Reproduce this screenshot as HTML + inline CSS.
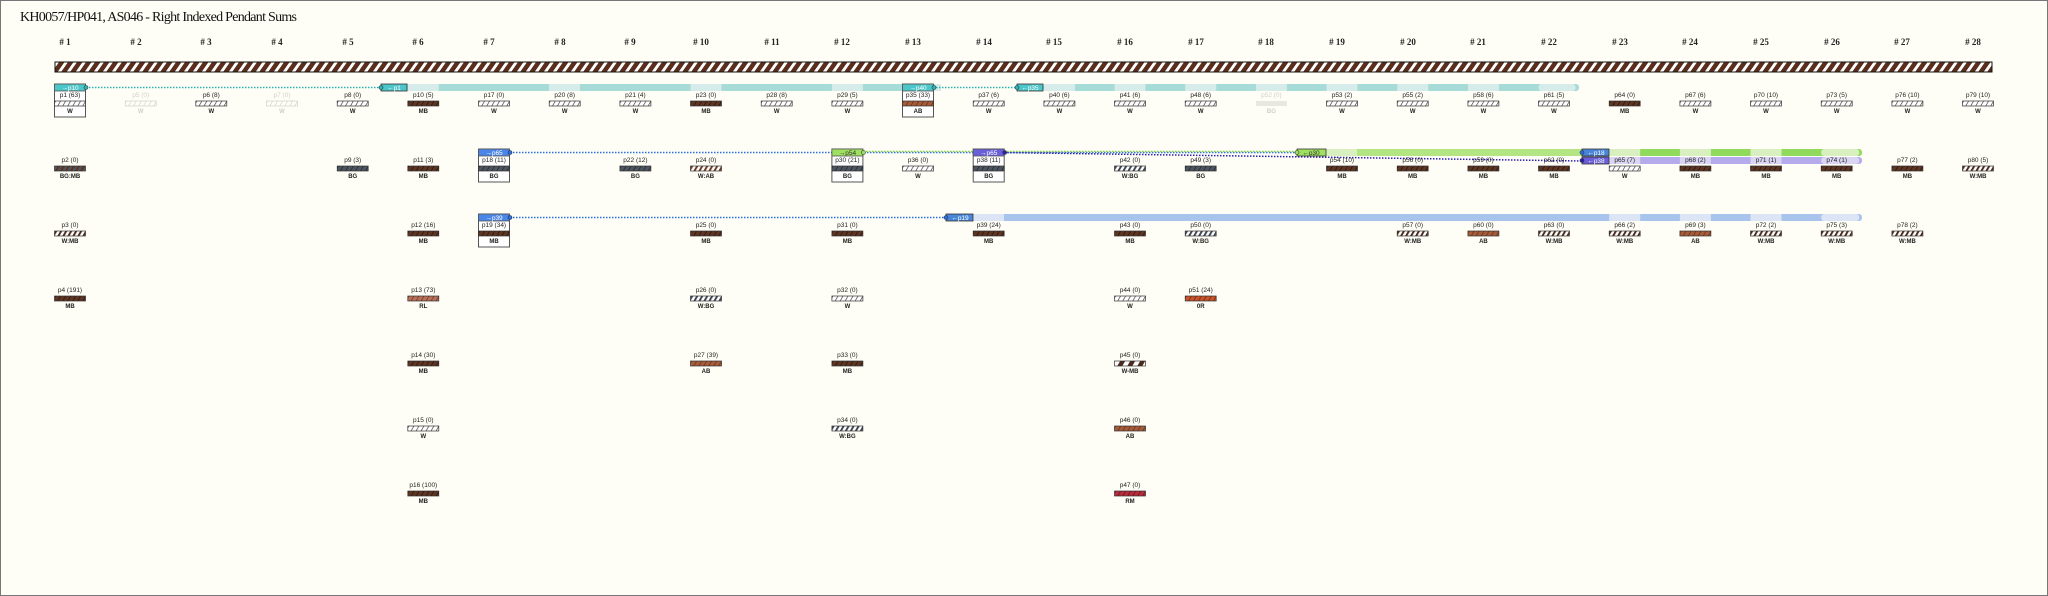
<!DOCTYPE html>
<html><head><meta charset="utf-8"><style>
html,body{margin:0;padding:0;background:#fffef6;}
svg{display:block;}
text{font-family:"Liberation Sans",sans-serif;}
.h{font-family:"Liberation Serif",serif;font-size:9px;font-weight:bold;fill:#222;text-anchor:middle;}
.l{font-size:6.5px;fill:#222;text-anchor:middle;}
.c{font-size:6px;fill:#222;text-anchor:middle;font-weight:bold;}
.bt{font-size:6.5px;fill:#fff;text-anchor:middle;}
.f{opacity:.22}
</style></head><body>
<svg width="2048" height="596" viewBox="0 0 2048 596" xmlns="http://www.w3.org/2000/svg">
<defs>
<pattern id="cord" width="9" height="10" patternUnits="userSpaceOnUse" patternTransform="skewX(-35)"><rect width="9" height="10" fill="#5a2e1c"/><rect x="0" width="3.5" height="10" fill="#fff"/></pattern>
<pattern id="pW" width="5" height="6" patternUnits="userSpaceOnUse" patternTransform="skewX(-30)"><rect width="5" height="6" fill="#fff"/><rect width="0.8" height="6" fill="#444"/></pattern>
<pattern id="pMB" width="5" height="6" patternUnits="userSpaceOnUse" patternTransform="skewX(-30)"><rect width="5" height="6" fill="#5e3423"/><rect width="1" height="6" fill="#2e1a10"/></pattern>
<pattern id="pAB" width="5" height="6" patternUnits="userSpaceOnUse" patternTransform="skewX(-30)"><rect width="5" height="6" fill="#a65c3a"/><rect width="1" height="6" fill="#6e3820"/></pattern>
<pattern id="pRL" width="5" height="6" patternUnits="userSpaceOnUse" patternTransform="skewX(-30)"><rect width="5" height="6" fill="#b8705a"/><rect width="1" height="6" fill="#7a4030"/></pattern>
<pattern id="pBG" width="5" height="6" patternUnits="userSpaceOnUse" patternTransform="skewX(-30)"><rect width="5" height="6" fill="#4d5560"/><rect width="1" height="6" fill="#2a3036"/></pattern>
<pattern id="pRM" width="5" height="6" patternUnits="userSpaceOnUse" patternTransform="skewX(-30)"><rect width="5" height="6" fill="#b82c3c"/><rect width="1" height="6" fill="#701820"/></pattern>
<pattern id="pOR" width="5" height="6" patternUnits="userSpaceOnUse" patternTransform="skewX(-30)"><rect width="5" height="6" fill="#c9532a"/><rect width="1" height="6" fill="#7a3018"/></pattern>
<pattern id="pWMB" width="5" height="6" patternUnits="userSpaceOnUse" patternTransform="skewX(-30)"><rect width="5" height="6" fill="#fff"/><rect width="2.2" height="6" fill="#4a2a1c"/></pattern>
<pattern id="pWBG" width="5" height="6" patternUnits="userSpaceOnUse" patternTransform="skewX(-30)"><rect width="5" height="6" fill="#fff"/><rect width="2.2" height="6" fill="#3d4550"/></pattern>
<pattern id="pWAB" width="5" height="6" patternUnits="userSpaceOnUse" patternTransform="skewX(-30)"><rect width="5" height="6" fill="#fff"/><rect width="2.2" height="6" fill="#6e3820"/></pattern>
<pattern id="pBGMB" width="5" height="6" patternUnits="userSpaceOnUse" patternTransform="skewX(-30)"><rect width="5" height="6" fill="#5e3423"/><rect width="2.5" height="6" fill="#4d5560"/></pattern>
<pattern id="pWdMB" width="10" height="6" patternUnits="userSpaceOnUse" patternTransform="skewX(-30)"><rect width="10" height="6" fill="#fff"/><rect width="5" height="6" fill="#4a2a1c"/></pattern>
</defs>
<rect x="0.5" y="0.5" width="2047" height="595" fill="#fffef6" stroke="#777"/>
<text x="20" y="21" font-size="14" fill="#111" textLength="277" style="font-family:'Liberation Serif',serif">KH0057/HP041, AS046 - Right Indexed Pendant Sums</text>

<g>
<text class="h" x="65" y="45"># 1</text><text class="h" x="136" y="45"># 2</text><text class="h" x="206" y="45"># 3</text><text class="h" x="277" y="45"># 4</text><text class="h" x="348" y="45"># 5</text><text class="h" x="418" y="45"># 6</text><text class="h" x="489" y="45"># 7</text><text class="h" x="560" y="45"># 8</text><text class="h" x="630" y="45"># 9</text><text class="h" x="701" y="45"># 10</text><text class="h" x="772" y="45"># 11</text><text class="h" x="842" y="45"># 12</text><text class="h" x="913" y="45"># 13</text><text class="h" x="984" y="45"># 14</text><text class="h" x="1054" y="45"># 15</text><text class="h" x="1125" y="45"># 16</text><text class="h" x="1196" y="45"># 17</text><text class="h" x="1266" y="45"># 18</text><text class="h" x="1337" y="45"># 19</text><text class="h" x="1408" y="45"># 20</text><text class="h" x="1478" y="45"># 21</text><text class="h" x="1549" y="45"># 22</text><text class="h" x="1620" y="45"># 23</text><text class="h" x="1690" y="45"># 24</text><text class="h" x="1761" y="45"># 25</text><text class="h" x="1832" y="45"># 26</text><text class="h" x="1902" y="45"># 27</text><text class="h" x="1973" y="45"># 28</text>
</g>
<rect x="55" y="62" width="1937" height="10" fill="url(#cord)" stroke="#111" stroke-width="1"/>

<!-- Row 1 band (teal) -->
<g>
<rect x="407" y="84" width="495" height="7" fill="#a6dbd7"/>
<rect x="407.8" y="84" width="31" height="7" fill="#d5ecea"/>
<rect x="549" y="84" width="31" height="7" fill="#d5ecea"/>
<rect x="690.5" y="84" width="31" height="7" fill="#d5ecea"/>
<rect x="831.9" y="84" width="31" height="7" fill="#d5ecea"/>
<rect x="933" y="84" width="8" height="7" fill="#d5ecea"/>
<rect x="1043" y="84" width="536" height="7" rx="3" fill="#a6dbd7"/>
<rect x="1043.9" y="84" width="31" height="7" fill="#d5ecea"/>
<rect x="1114.5" y="84" width="31" height="7" fill="#d5ecea"/>
<rect x="1185.2" y="84" width="31" height="7" fill="#d5ecea"/>
<rect x="1255.9" y="84" width="31" height="7" fill="#d5ecea"/>
<rect x="1326.5" y="84" width="31" height="7" fill="#d5ecea"/>
<rect x="1397.2" y="84" width="31" height="7" fill="#d5ecea"/>
<rect x="1467.9" y="84" width="31" height="7" fill="#d5ecea"/>
<rect x="1538.5" y="84" width="37" height="7" rx="3" fill="#d5ecea"/>
<line x1="86" y1="87.5" x2="381" y2="87.5" stroke="#2bb5b8" stroke-width="1.5" stroke-dasharray="1.5 1.5"/>
<line x1="933" y1="87.5" x2="1017" y2="87.5" stroke="#2bb5b8" stroke-width="1.5" stroke-dasharray="1.5 1.5"/>
<rect x="381" y="84" width="26" height="7" fill="#4cc6c8" stroke="#333" stroke-width=".8"/><text class="bt" x="394" y="90">←p1</text>
<rect x="1017" y="84" width="26" height="7" fill="#4cc6c8" stroke="#333" stroke-width=".8"/><text class="bt" x="1030" y="90">←p35</text>
<circle cx="381" cy="87.5" r="2" fill="#2bb5b8" stroke="#333" stroke-width=".6"/>
<circle cx="1017" cy="87.5" r="2" fill="#2bb5b8" stroke="#333" stroke-width=".6"/>
</g>

<!-- Row 2 connectors -->
<g>
<line x1="510" y1="152.5" x2="1582" y2="152.5" stroke="#2a6de0" stroke-width="1.5" stroke-dasharray="1.5 1.5"/>
<line x1="1004" y1="152.5" x2="1582" y2="161" stroke="#2a1fb0" stroke-width="1.5" stroke-dasharray="1.5 1.5"/>
<line x1="863" y1="151.5" x2="1297" y2="151.5" stroke="#86d838" stroke-width="1.5" stroke-dasharray="1.5 1.5"/>
<rect x="1326" y="149" width="256" height="7" fill="#b3e582"/>
<rect x="1326" y="149" width="31" height="7" fill="#d8f0c0"/>
<rect x="1297" y="149" width="29" height="7" fill="#9fe060" stroke="#333" stroke-width=".8"/><text x="1311" y="155" font-size="6.5" fill="#333" text-anchor="middle">←p30</text>
<circle cx="1297" cy="152.5" r="2" fill="#9fe060" stroke="#333" stroke-width=".6"/>
<rect x="1609" y="149" width="253" height="7" rx="3" fill="#90da5c"/>
<rect x="1609" y="157" width="253" height="7" rx="3" fill="#b4aaec"/>
<rect x="1609.2" y="149" width="31" height="7" fill="#d8f0c0"/><rect x="1609.2" y="157" width="31" height="7" fill="#d9d5f2"/>
<rect x="1750.5" y="149" width="31" height="7" fill="#d8f0c0"/><rect x="1750.5" y="157" width="31" height="7" fill="#d9d5f2"/>
<rect x="1821.2" y="149" width="38" height="7" rx="3" fill="#d8f0c0"/><rect x="1821.2" y="157" width="38" height="7" rx="3" fill="#d9d5f2"/>
<rect x="1679.9" y="149" width="31" height="7" fill="#d8f0c0"/><rect x="1679.9" y="157" width="31" height="7" fill="#d9d5f2"/>
<rect x="1582" y="149" width="27" height="7" fill="#4a86d8" stroke="#333" stroke-width=".8"/><text class="bt" x="1596" y="155">←p18</text>
<rect x="1582" y="157" width="27" height="7" fill="#6a5fd8" stroke="#333" stroke-width=".8"/><text class="bt" x="1596" y="163">←p38</text>
<circle cx="1582" cy="152.5" r="2" fill="#2a6de0" stroke="#333" stroke-width=".6"/>
<circle cx="1582" cy="160.5" r="2" fill="#2a1fb0" stroke="#333" stroke-width=".6"/>
</g>

<!-- Row 3 connectors -->
<g>
<line x1="510" y1="217.5" x2="946" y2="217.5" stroke="#2a6de0" stroke-width="1.5" stroke-dasharray="1.5 1.5"/>
<rect x="973" y="214" width="889" height="7" rx="3" fill="#a9c4ec"/>
<rect x="973" y="214" width="31" height="7" fill="#dbe5f5"/>
<rect x="1609.2" y="214" width="31" height="7" fill="#dbe5f5"/>
<rect x="1679.9" y="214" width="31" height="7" fill="#dbe5f5"/>
<rect x="1750.5" y="214" width="31" height="7" fill="#dbe5f5"/>
<rect x="1821.2" y="214" width="38" height="7" rx="3" fill="#dbe5f5"/>
<rect x="946" y="214" width="27" height="7" fill="#4a86d8" stroke="#333" stroke-width=".8"/><text class="bt" x="960" y="220">←p19</text>
<circle cx="946" cy="217.5" r="2" fill="#2a6de0" stroke="#333" stroke-width=".6"/>
</g>

<!-- Boxed pendants -->
<g transform="translate(70,84)"><rect x="-15.5" y="0" width="31" height="33" fill="#fff" stroke="#555"/><rect x="-15.5" y="0" width="31" height="7" fill="#4cc6c8" stroke="#555" stroke-width=".8"/><text class="bt" x="0" y="6">→p10</text><text class="l" x="0" y="13">p1 (63)</text><rect x="-15.5" y="17" width="31" height="5" fill="url(#pW)" stroke="#333" stroke-width=".7"/><text class="c" x="0" y="29">W</text><circle cx="16" cy="3.5" r="2" fill="#2bb5b8" stroke="#333" stroke-width=".6"/></g>
<g transform="translate(918,84)"><rect x="-15.5" y="0" width="31" height="33" fill="#fff" stroke="#555"/><rect x="-15.5" y="0" width="31" height="7" fill="#4cc6c8" stroke="#555" stroke-width=".8"/><text class="bt" x="0" y="6">→p40</text><text class="l" x="0" y="13">p35 (33)</text><rect x="-15.5" y="17" width="31" height="5" fill="url(#pAB)" stroke="#333" stroke-width=".7"/><text class="c" x="0" y="29">AB</text><circle cx="16" cy="3.5" r="2" fill="#2bb5b8" stroke="#333" stroke-width=".6"/></g>
<g transform="translate(494,149)"><rect x="-15.5" y="0" width="31" height="33" fill="#fff" stroke="#555"/><rect x="-15.5" y="0" width="31" height="7" fill="#4a86e8" stroke="#555" stroke-width=".8"/><text class="bt" x="0" y="6">→p65</text><text class="l" x="0" y="13">p18 (11)</text><rect x="-15.5" y="17" width="31" height="5" fill="url(#pBG)" stroke="#333" stroke-width=".7"/><text class="c" x="0" y="29">BG</text><circle cx="16" cy="3.5" r="2" fill="#2a6de0" stroke="#333" stroke-width=".6"/></g>
<g transform="translate(847.4,149)"><rect x="-15.5" y="0" width="31" height="33" fill="#fff" stroke="#555"/><rect x="-15.5" y="0" width="31" height="7" fill="#9fe060" stroke="#555" stroke-width=".8"/><text x="0" y="6" font-size="6.5" fill="#333" text-anchor="middle">→p54</text><text class="l" x="0" y="13">p30 (21)</text><rect x="-15.5" y="17" width="31" height="5" fill="url(#pBG)" stroke="#333" stroke-width=".7"/><text class="c" x="0" y="29">BG</text><circle cx="16" cy="3.5" r="2" fill="#9fe060" stroke="#333" stroke-width=".6"/></g>
<g transform="translate(988.7,149)"><rect x="-15.5" y="0" width="31" height="33" fill="#fff" stroke="#555"/><rect x="-15.5" y="0" width="31" height="7" fill="#6a5fd8" stroke="#555" stroke-width=".8"/><text class="bt" x="0" y="6">→p65</text><text class="l" x="0" y="13">p38 (11)</text><rect x="-15.5" y="17" width="31" height="5" fill="url(#pBG)" stroke="#333" stroke-width=".7"/><text class="c" x="0" y="29">BG</text><circle cx="16" cy="3.5" r="2" fill="#2a1fb0" stroke="#333" stroke-width=".6"/></g>
<g transform="translate(494,214)"><rect x="-15.5" y="0" width="31" height="33" fill="#fff" stroke="#555"/><rect x="-15.5" y="0" width="31" height="7" fill="#4a86e8" stroke="#555" stroke-width=".8"/><text class="bt" x="0" y="6">→p39</text><text class="l" x="0" y="13">p19 (34)</text><rect x="-15.5" y="17" width="31" height="5" fill="url(#pMB)" stroke="#333" stroke-width=".7"/><text class="c" x="0" y="29">MB</text><circle cx="16" cy="3.5" r="2" fill="#2a6de0" stroke="#333" stroke-width=".6"/></g>

<!-- Row 1 pendants (y0=84) -->
<g class="f" transform="translate(140.7,84)"><text class="l" y="13">p5 (0)</text><rect x="-15.5" y="17" width="31" height="5" fill="url(#pW)" stroke="#333" stroke-width=".7"/><text class="c" y="29">W</text></g>
<g transform="translate(211.3,84)"><text class="l" y="13">p6 (8)</text><rect x="-15.5" y="17" width="31" height="5" fill="url(#pW)" stroke="#333" stroke-width=".7"/><text class="c" y="29">W</text></g>
<g class="f" transform="translate(282,84)"><text class="l" y="13">p7 (0)</text><rect x="-15.5" y="17" width="31" height="5" fill="url(#pW)" stroke="#333" stroke-width=".7"/><text class="c" y="29">W</text></g>
<g transform="translate(352.7,84)"><text class="l" y="13">p8 (0)</text><rect x="-15.5" y="17" width="31" height="5" fill="url(#pW)" stroke="#333" stroke-width=".7"/><text class="c" y="29">W</text></g>
<g transform="translate(423.3,84)"><text class="l" y="13">p10 (5)</text><rect x="-15.5" y="17" width="31" height="5" fill="url(#pMB)" stroke="#333" stroke-width=".7"/><text class="c" y="29">MB</text></g>
<g transform="translate(494,84)"><text class="l" y="13">p17 (0)</text><rect x="-15.5" y="17" width="31" height="5" fill="url(#pW)" stroke="#333" stroke-width=".7"/><text class="c" y="29">W</text></g>
<g transform="translate(564.7,84)"><text class="l" y="13">p20 (8)</text><rect x="-15.5" y="17" width="31" height="5" fill="url(#pW)" stroke="#333" stroke-width=".7"/><text class="c" y="29">W</text></g>
<g transform="translate(635.4,84)"><text class="l" y="13">p21 (4)</text><rect x="-15.5" y="17" width="31" height="5" fill="url(#pW)" stroke="#333" stroke-width=".7"/><text class="c" y="29">W</text></g>
<g transform="translate(706,84)"><text class="l" y="13">p23 (0)</text><rect x="-15.5" y="17" width="31" height="5" fill="url(#pMB)" stroke="#333" stroke-width=".7"/><text class="c" y="29">MB</text></g>
<g transform="translate(776.7,84)"><text class="l" y="13">p28 (8)</text><rect x="-15.5" y="17" width="31" height="5" fill="url(#pW)" stroke="#333" stroke-width=".7"/><text class="c" y="29">W</text></g>
<g transform="translate(847.4,84)"><text class="l" y="13">p29 (5)</text><rect x="-15.5" y="17" width="31" height="5" fill="url(#pW)" stroke="#333" stroke-width=".7"/><text class="c" y="29">W</text></g>
<g transform="translate(988.7,84)"><text class="l" y="13">p37 (6)</text><rect x="-15.5" y="17" width="31" height="5" fill="url(#pW)" stroke="#333" stroke-width=".7"/><text class="c" y="29">W</text></g>
<g transform="translate(1059.4,84)"><text class="l" y="13">p40 (6)</text><rect x="-15.5" y="17" width="31" height="5" fill="url(#pW)" stroke="#333" stroke-width=".7"/><text class="c" y="29">W</text></g>
<g transform="translate(1130,84)"><text class="l" y="13">p41 (6)</text><rect x="-15.5" y="17" width="31" height="5" fill="url(#pW)" stroke="#333" stroke-width=".7"/><text class="c" y="29">W</text></g>
<g transform="translate(1200.7,84)"><text class="l" y="13">p48 (6)</text><rect x="-15.5" y="17" width="31" height="5" fill="url(#pW)" stroke="#333" stroke-width=".7"/><text class="c" y="29">W</text></g>
<g class="f" transform="translate(1271.4,84)"><text class="l" y="13">p52 (0)</text><rect x="-15.5" y="17" width="31" height="5" fill="#999"/><text class="c" y="29">BG</text></g>
<g transform="translate(1342,84)"><text class="l" y="13">p53 (2)</text><rect x="-15.5" y="17" width="31" height="5" fill="url(#pW)" stroke="#333" stroke-width=".7"/><text class="c" y="29">W</text></g>
<g transform="translate(1412.7,84)"><text class="l" y="13">p55 (2)</text><rect x="-15.5" y="17" width="31" height="5" fill="url(#pW)" stroke="#333" stroke-width=".7"/><text class="c" y="29">W</text></g>
<g transform="translate(1483.4,84)"><text class="l" y="13">p58 (6)</text><rect x="-15.5" y="17" width="31" height="5" fill="url(#pW)" stroke="#333" stroke-width=".7"/><text class="c" y="29">W</text></g>
<g transform="translate(1554,84)"><text class="l" y="13">p61 (5)</text><rect x="-15.5" y="17" width="31" height="5" fill="url(#pW)" stroke="#333" stroke-width=".7"/><text class="c" y="29">W</text></g>
<g transform="translate(1624.7,84)"><text class="l" y="13">p64 (0)</text><rect x="-15.5" y="17" width="31" height="5" fill="url(#pMB)" stroke="#333" stroke-width=".7"/><text class="c" y="29">MB</text></g>
<g transform="translate(1695.4,84)"><text class="l" y="13">p67 (6)</text><rect x="-15.5" y="17" width="31" height="5" fill="url(#pW)" stroke="#333" stroke-width=".7"/><text class="c" y="29">W</text></g>
<g transform="translate(1766,84)"><text class="l" y="13">p70 (10)</text><rect x="-15.5" y="17" width="31" height="5" fill="url(#pW)" stroke="#333" stroke-width=".7"/><text class="c" y="29">W</text></g>
<g transform="translate(1836.7,84)"><text class="l" y="13">p73 (5)</text><rect x="-15.5" y="17" width="31" height="5" fill="url(#pW)" stroke="#333" stroke-width=".7"/><text class="c" y="29">W</text></g>
<g transform="translate(1907.4,84)"><text class="l" y="13">p76 (10)</text><rect x="-15.5" y="17" width="31" height="5" fill="url(#pW)" stroke="#333" stroke-width=".7"/><text class="c" y="29">W</text></g>
<g transform="translate(1978,84)"><text class="l" y="13">p79 (10)</text><rect x="-15.5" y="17" width="31" height="5" fill="url(#pW)" stroke="#333" stroke-width=".7"/><text class="c" y="29">W</text></g>

<!-- Row 2 (y0=149) -->
<g transform="translate(70,149)"><text class="l" y="13">p2 (0)</text><rect x="-15.5" y="17" width="31" height="5" fill="url(#pBGMB)" stroke="#333" stroke-width=".7"/><text class="c" y="29">BG:MB</text></g>
<g transform="translate(352.7,149)"><text class="l" y="13">p9 (3)</text><rect x="-15.5" y="17" width="31" height="5" fill="url(#pBG)" stroke="#333" stroke-width=".7"/><text class="c" y="29">BG</text></g>
<g transform="translate(423.3,149)"><text class="l" y="13">p11 (3)</text><rect x="-15.5" y="17" width="31" height="5" fill="url(#pMB)" stroke="#333" stroke-width=".7"/><text class="c" y="29">MB</text></g>
<g transform="translate(635.4,149)"><text class="l" y="13">p22 (12)</text><rect x="-15.5" y="17" width="31" height="5" fill="url(#pBG)" stroke="#333" stroke-width=".7"/><text class="c" y="29">BG</text></g>
<g transform="translate(706,149)"><text class="l" y="13">p24 (0)</text><rect x="-15.5" y="17" width="31" height="5" fill="url(#pWAB)" stroke="#333" stroke-width=".7"/><text class="c" y="29">W:AB</text></g>
<g transform="translate(918,149)"><text class="l" y="13">p36 (0)</text><rect x="-15.5" y="17" width="31" height="5" fill="url(#pW)" stroke="#333" stroke-width=".7"/><text class="c" y="29">W</text></g>
<g transform="translate(1130,149)"><text class="l" y="13">p42 (0)</text><rect x="-15.5" y="17" width="31" height="5" fill="url(#pWBG)" stroke="#333" stroke-width=".7"/><text class="c" y="29">W:BG</text></g>
<g transform="translate(1200.7,149)"><text class="l" y="13">p49 (3)</text><rect x="-15.5" y="17" width="31" height="5" fill="url(#pBG)" stroke="#333" stroke-width=".7"/><text class="c" y="29">BG</text></g>
<g transform="translate(1342,149)"><text class="l" y="13">p54 (10)</text><rect x="-15.5" y="17" width="31" height="5" fill="url(#pMB)" stroke="#333" stroke-width=".7"/><text class="c" y="29">MB</text></g>
<g transform="translate(1412.7,149)"><text class="l" y="13">p56 (0)</text><rect x="-15.5" y="17" width="31" height="5" fill="url(#pMB)" stroke="#333" stroke-width=".7"/><text class="c" y="29">MB</text></g>
<g transform="translate(1483.4,149)"><text class="l" y="13">p59 (0)</text><rect x="-15.5" y="17" width="31" height="5" fill="url(#pMB)" stroke="#333" stroke-width=".7"/><text class="c" y="29">MB</text></g>
<g transform="translate(1554,149)"><text class="l" y="13">p62 (0)</text><rect x="-15.5" y="17" width="31" height="5" fill="url(#pMB)" stroke="#333" stroke-width=".7"/><text class="c" y="29">MB</text></g>
<g transform="translate(1624.7,149)"><text class="l" y="13">p65 (7)</text><rect x="-15.5" y="17" width="31" height="5" fill="url(#pW)" stroke="#333" stroke-width=".7"/><text class="c" y="29">W</text></g>
<g transform="translate(1695.4,149)"><text class="l" y="13">p68 (2)</text><rect x="-15.5" y="17" width="31" height="5" fill="url(#pMB)" stroke="#333" stroke-width=".7"/><text class="c" y="29">MB</text></g>
<g transform="translate(1766,149)"><text class="l" y="13">p71 (1)</text><rect x="-15.5" y="17" width="31" height="5" fill="url(#pMB)" stroke="#333" stroke-width=".7"/><text class="c" y="29">MB</text></g>
<g transform="translate(1836.7,149)"><text class="l" y="13">p74 (1)</text><rect x="-15.5" y="17" width="31" height="5" fill="url(#pMB)" stroke="#333" stroke-width=".7"/><text class="c" y="29">MB</text></g>
<g transform="translate(1907.4,149)"><text class="l" y="13">p77 (2)</text><rect x="-15.5" y="17" width="31" height="5" fill="url(#pMB)" stroke="#333" stroke-width=".7"/><text class="c" y="29">MB</text></g>
<g transform="translate(1978,149)"><text class="l" y="13">p80 (5)</text><rect x="-15.5" y="17" width="31" height="5" fill="url(#pWMB)" stroke="#333" stroke-width=".7"/><text class="c" y="29">W:MB</text></g>

<!-- Row 3 (y0=214) -->
<g transform="translate(70,214)"><text class="l" y="13">p3 (0)</text><rect x="-15.5" y="17" width="31" height="5" fill="url(#pWMB)" stroke="#333" stroke-width=".7"/><text class="c" y="29">W:MB</text></g>
<g transform="translate(423.3,214)"><text class="l" y="13">p12 (16)</text><rect x="-15.5" y="17" width="31" height="5" fill="url(#pMB)" stroke="#333" stroke-width=".7"/><text class="c" y="29">MB</text></g>
<g transform="translate(706,214)"><text class="l" y="13">p25 (0)</text><rect x="-15.5" y="17" width="31" height="5" fill="url(#pMB)" stroke="#333" stroke-width=".7"/><text class="c" y="29">MB</text></g>
<g transform="translate(847.4,214)"><text class="l" y="13">p31 (0)</text><rect x="-15.5" y="17" width="31" height="5" fill="url(#pMB)" stroke="#333" stroke-width=".7"/><text class="c" y="29">MB</text></g>
<g transform="translate(988.7,214)"><text class="l" y="13">p39 (24)</text><rect x="-15.5" y="17" width="31" height="5" fill="url(#pMB)" stroke="#333" stroke-width=".7"/><text class="c" y="29">MB</text></g>
<g transform="translate(1130,214)"><text class="l" y="13">p43 (0)</text><rect x="-15.5" y="17" width="31" height="5" fill="url(#pMB)" stroke="#333" stroke-width=".7"/><text class="c" y="29">MB</text></g>
<g transform="translate(1200.7,214)"><text class="l" y="13">p50 (0)</text><rect x="-15.5" y="17" width="31" height="5" fill="url(#pWBG)" stroke="#333" stroke-width=".7"/><text class="c" y="29">W:BG</text></g>
<g transform="translate(1412.7,214)"><text class="l" y="13">p57 (0)</text><rect x="-15.5" y="17" width="31" height="5" fill="url(#pWMB)" stroke="#333" stroke-width=".7"/><text class="c" y="29">W:MB</text></g>
<g transform="translate(1483.4,214)"><text class="l" y="13">p60 (0)</text><rect x="-15.5" y="17" width="31" height="5" fill="url(#pAB)" stroke="#333" stroke-width=".7"/><text class="c" y="29">AB</text></g>
<g transform="translate(1554,214)"><text class="l" y="13">p63 (0)</text><rect x="-15.5" y="17" width="31" height="5" fill="url(#pWMB)" stroke="#333" stroke-width=".7"/><text class="c" y="29">W:MB</text></g>
<g transform="translate(1624.7,214)"><text class="l" y="13">p66 (2)</text><rect x="-15.5" y="17" width="31" height="5" fill="url(#pWMB)" stroke="#333" stroke-width=".7"/><text class="c" y="29">W:MB</text></g>
<g transform="translate(1695.4,214)"><text class="l" y="13">p69 (3)</text><rect x="-15.5" y="17" width="31" height="5" fill="url(#pAB)" stroke="#333" stroke-width=".7"/><text class="c" y="29">AB</text></g>
<g transform="translate(1766,214)"><text class="l" y="13">p72 (2)</text><rect x="-15.5" y="17" width="31" height="5" fill="url(#pWMB)" stroke="#333" stroke-width=".7"/><text class="c" y="29">W:MB</text></g>
<g transform="translate(1836.7,214)"><text class="l" y="13">p75 (3)</text><rect x="-15.5" y="17" width="31" height="5" fill="url(#pWMB)" stroke="#333" stroke-width=".7"/><text class="c" y="29">W:MB</text></g>
<g transform="translate(1907.4,214)"><text class="l" y="13">p78 (2)</text><rect x="-15.5" y="17" width="31" height="5" fill="url(#pWMB)" stroke="#333" stroke-width=".7"/><text class="c" y="29">W:MB</text></g>

<!-- Row 4 (y0=279) -->
<g transform="translate(70,279)"><text class="l" y="13">p4 (191)</text><rect x="-15.5" y="17" width="31" height="5" fill="url(#pMB)" stroke="#333" stroke-width=".7"/><text class="c" y="29">MB</text></g>
<g transform="translate(423.3,279)"><text class="l" y="13">p13 (73)</text><rect x="-15.5" y="17" width="31" height="5" fill="url(#pRL)" stroke="#333" stroke-width=".7"/><text class="c" y="29">RL</text></g>
<g transform="translate(706,279)"><text class="l" y="13">p26 (0)</text><rect x="-15.5" y="17" width="31" height="5" fill="url(#pWBG)" stroke="#333" stroke-width=".7"/><text class="c" y="29">W:BG</text></g>
<g transform="translate(847.4,279)"><text class="l" y="13">p32 (0)</text><rect x="-15.5" y="17" width="31" height="5" fill="url(#pW)" stroke="#333" stroke-width=".7"/><text class="c" y="29">W</text></g>
<g transform="translate(1130,279)"><text class="l" y="13">p44 (0)</text><rect x="-15.5" y="17" width="31" height="5" fill="url(#pW)" stroke="#333" stroke-width=".7"/><text class="c" y="29">W</text></g>
<g transform="translate(1200.7,279)"><text class="l" y="13">p51 (24)</text><rect x="-15.5" y="17" width="31" height="5" fill="url(#pOR)" stroke="#333" stroke-width=".7"/><text class="c" y="29">0R</text></g>

<!-- Row 5 (y0=344) -->
<g transform="translate(423.3,344)"><text class="l" y="13">p14 (30)</text><rect x="-15.5" y="17" width="31" height="5" fill="url(#pMB)" stroke="#333" stroke-width=".7"/><text class="c" y="29">MB</text></g>
<g transform="translate(706,344)"><text class="l" y="13">p27 (39)</text><rect x="-15.5" y="17" width="31" height="5" fill="url(#pAB)" stroke="#333" stroke-width=".7"/><text class="c" y="29">AB</text></g>
<g transform="translate(847.4,344)"><text class="l" y="13">p33 (0)</text><rect x="-15.5" y="17" width="31" height="5" fill="url(#pMB)" stroke="#333" stroke-width=".7"/><text class="c" y="29">MB</text></g>
<g transform="translate(1130,344)"><text class="l" y="13">p45 (0)</text><rect x="-15.5" y="17" width="31" height="5" fill="url(#pWdMB)" stroke="#333" stroke-width=".7"/><text class="c" y="29">W-MB</text></g>

<!-- Row 6 (y0=409) -->
<g transform="translate(423.3,409)"><text class="l" y="13">p15 (0)</text><rect x="-15.5" y="17" width="31" height="5" fill="url(#pW)" stroke="#333" stroke-width=".7"/><text class="c" y="29">W</text></g>
<g transform="translate(847.4,409)"><text class="l" y="13">p34 (0)</text><rect x="-15.5" y="17" width="31" height="5" fill="url(#pWBG)" stroke="#333" stroke-width=".7"/><text class="c" y="29">W:BG</text></g>
<g transform="translate(1130,409)"><text class="l" y="13">p46 (0)</text><rect x="-15.5" y="17" width="31" height="5" fill="url(#pAB)" stroke="#333" stroke-width=".7"/><text class="c" y="29">AB</text></g>

<!-- Row 7 (y0=474) -->
<g transform="translate(423.3,474)"><text class="l" y="13">p16 (100)</text><rect x="-15.5" y="17" width="31" height="5" fill="url(#pMB)" stroke="#333" stroke-width=".7"/><text class="c" y="29">MB</text></g>
<g transform="translate(1130,474)"><text class="l" y="13">p47 (0)</text><rect x="-15.5" y="17" width="31" height="5" fill="url(#pRM)" stroke="#333" stroke-width=".7"/><text class="c" y="29">RM</text></g>
</svg>
</body></html>
